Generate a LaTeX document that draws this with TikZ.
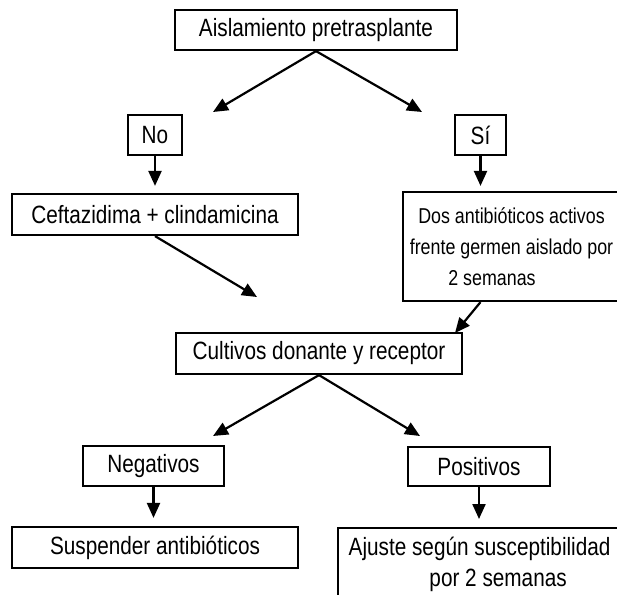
\documentclass[tikz,border=0pt]{standalone}
\usepackage{fontspec}
\setmainfont{Liberation Sans}[FakeStretch=0.83]
\usetikzlibrary{arrows.meta}
\begin{document}
\begin{tikzpicture}[x=1pt,y=-1pt,
  box/.style={draw,line width=2.2pt,inner sep=0pt,align=center,
    font=\fontsize{25}{31}\selectfont},
  conn/.style={line width=2.2pt,-{Triangle[length=15pt,width=13pt]}}]
\useasboundingbox (0,0) rectangle (617,594);
\clip (0,0) rectangle (617,594);
\fill[white] (0,0) rectangle (617,594);
\node[box,minimum width=282pt,minimum height=40pt] (A) at (316,30) {Aislamiento pretrasplante};
\node[box,minimum width=54pt,minimum height=40pt] (No) at (155,135) {No};
\node[box,minimum width=51pt,minimum height=40pt] (Si) at (480.5,135) {Sí};
\node[box,minimum width=286pt,minimum height=41pt] (Cef) at (155,214.5) {Ceftazidima + clindamicina};
\node[box,minimum width=217pt,minimum height=109pt,font=\fontsize{21.5}{31}\selectfont] (Dos) at (511.5,246.5) {Dos antibióticos activos\\frente germen aislado por\hspace*{7pt}\\2 semanas\hspace*{39pt}};
\node[box,minimum width=286pt,minimum height=41pt] (Cul) at (319,353.5) {Cultivos donante y receptor};
\node[box,minimum width=141pt,minimum height=40pt] (Neg) at (153.5,466) {Negativos};
\node[box,minimum width=142pt,minimum height=39pt] (Pos) at (479,466.5) {Positivos};
\node[box,minimum width=286pt,minimum height=41pt] (Sus) at (155,547.5) {Suspender antibióticos};
\node[box,minimum width=283pt,minimum height=72pt,anchor=north west] (Aju) at (337,527) {Ajuste según susceptibilidad\\\hspace*{37pt}por 2 semanas};
\coordinate (t1) at (213,112);
\coordinate (t2) at (422,112);
\coordinate (t3) at (257,297);
\coordinate (t4) at (455,333);
\coordinate (t5) at (213,436);
\coordinate (t6) at (420,436);
\draw[conn] (A.south) -- (t1);
\draw[conn] (A.south) -- (t2);
\draw[conn,shorten >=7pt] (No.south) -- (Cef.north);
\draw[conn,shorten >=5pt] (Si.south) -- (Si.south |- Dos.north);
\draw[conn] (Cef.south) -- (t3);
\draw[conn] (Dos.south -| Si.south) -- (t4);
\draw[conn] (Cul.south) -- (t5);
\draw[conn] (Cul.south) -- (t6);
\draw[conn,shorten >=8pt] (Neg.south) -- (Neg.south |- Sus.north);
\draw[conn,shorten >=8pt] (Pos.south) -- (Pos.south |- Aju.north);
\end{tikzpicture}
\end{document}
